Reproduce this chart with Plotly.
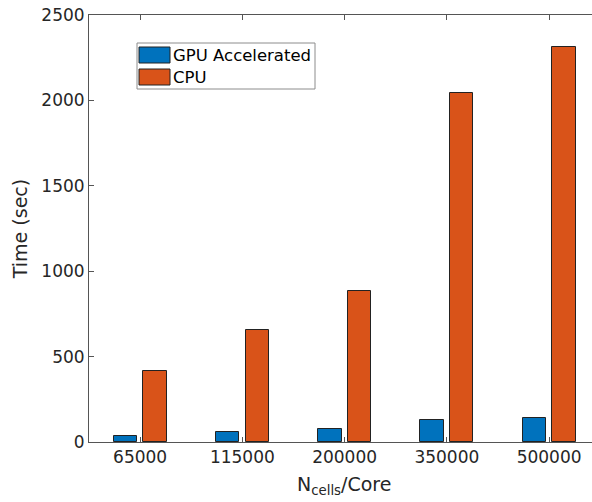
import plotly.graph_objects as go

# Grouped run-time comparison per core load
categories = ["65000", "115000", "200000", "350000", "500000"]
gpu_time = [37, 60, 78, 130, 140]
cpu_time = [416, 654, 884, 2041, 2311]
y_ticks = [0, 500, 1000, 1500, 2000, 2500]

series_names = ["GPU Accelerated", "CPU"]
colors = ["#0072BD", "#D95319"]

x_pos = list(range(1, len(categories) + 1))
bar_w = 0.228
offsets = [-0.258, 0.032]
font = "DejaVu Sans, Verdana, sans-serif"
ink = "#262626"

fig = go.Figure()
for name, vals, col, off in zip(series_names, [gpu_time, cpu_time], colors, offsets):
    fig.add_trace(go.Bar(
        x=x_pos, y=vals, name=name, width=bar_w, offset=off,
        marker=dict(color=col, line=dict(color="#222222", width=1)),
        showlegend=False,
    ))

# Legend box drawn as shapes/text so the swatches keep their wide shape
leg_x0, leg_y0, leg_x1, leg_y1 = 137, 43, 315, 89
shapes = [dict(type="rect", xref="paper", yref="paper",
               x0=(leg_x0 - 89) / 503, x1=(leg_x1 - 89) / 503,
               y0=(442 - leg_y1) / 427, y1=(442 - leg_y0) / 427,
               line=dict(color="#8c8c8c", width=1), fillcolor="white", layer="above")]
annotations = []
for i, (name, col) in enumerate(zip(series_names, colors)):
    cy = 55 + i * 22
    shapes.append(dict(type="rect", xref="paper", yref="paper",
                       x0=(139 - 89) / 503, x1=(170 - 89) / 503,
                       y0=(442 - (cy + 8)) / 427, y1=(442 - (cy - 8)) / 427,
                       line=dict(color="#222222", width=1), fillcolor=col, layer="above"))
    annotations.append(dict(xref="paper", yref="paper", x=(171 - 89) / 503,
                            y=(442 - cy) / 427, text=name, showarrow=False,
                            xanchor="left", yanchor="middle",
                            font=dict(family=font, size=16.5, color="#000000")))

annotations.append(dict(xref="paper", yref="paper", x=(344 - 89) / 503, y=-0.068,
                        text="N<sub>cells</sub>/Core", showarrow=False,
                        xanchor="center", yanchor="top",
                        font=dict(family=font, size=19, color=ink)))

fig.update_layout(
    width=592, height=502,
    margin=dict(l=89, r=0, t=15, b=60),
    paper_bgcolor="white", plot_bgcolor="white",
    font=dict(family=font, size=17, color=ink),
    shapes=shapes, annotations=annotations,
    xaxis=dict(range=[0.5, 0.5 + 503 / 102.25], tickvals=x_pos, ticktext=categories,
               ticks="inside", ticklen=5, tickcolor="#555555",
               showline=True, linecolor="#555555", linewidth=1, mirror="ticks",
               showgrid=False, zeroline=False, tickfont=dict(size=17, color=ink)),
    yaxis=dict(range=[0, 2500], tickvals=y_ticks,
               ticks="inside", ticklen=5, tickcolor="#555555",
               showline=True, linecolor="#555555", linewidth=1,
               showgrid=False, zeroline=False, tickfont=dict(size=17, color=ink),
               title=dict(text="Time (sec)", font=dict(size=19, color=ink), standoff=8)),
    bargap=0,
)

fig.write_html("out.html")
